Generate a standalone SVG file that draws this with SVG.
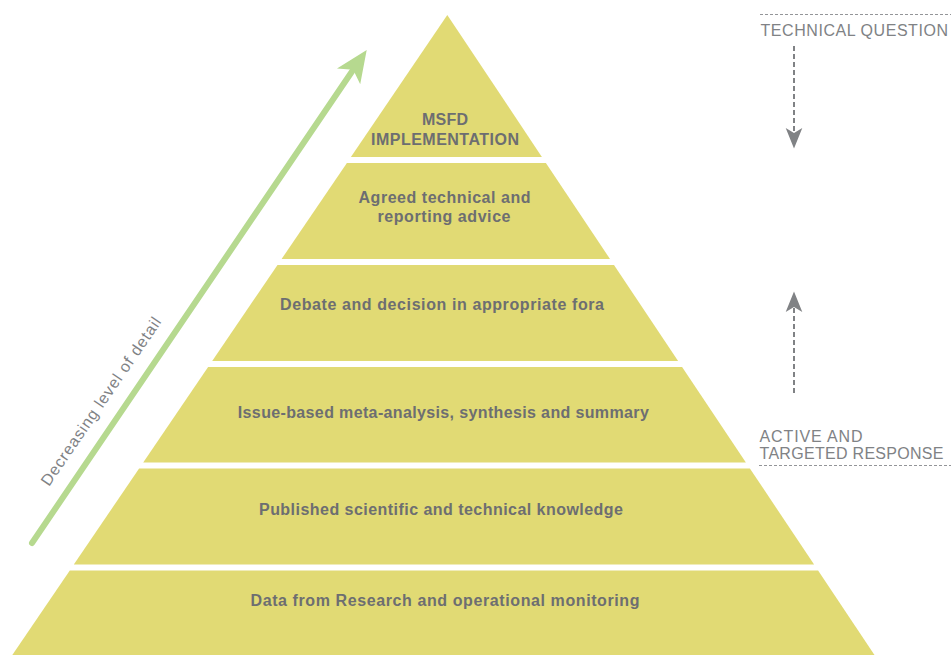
<svg xmlns="http://www.w3.org/2000/svg" width="951" height="655" viewBox="0 0 951 655">
  <style>
    .band { fill: #e1da74; }
    .lbl { font-family: "Liberation Sans", Arial, sans-serif; font-weight: bold; font-size: 16px; fill: #6d6e71; text-anchor: middle; }
    .side { font-family: "Liberation Sans", Arial, sans-serif; font-size: 16px; fill: #808285; }
    .rule { stroke: #939598; stroke-width: 1; stroke-dasharray: 3 2; fill: none; }
    .flow { stroke: #808285; stroke-width: 2; stroke-dasharray: 5 3; fill: none; }
    .head { fill: #808285; }
  </style>
  <rect width="951" height="655" fill="#ffffff"/>

  <g id="level-1">
    <polygon class="band" points="447.3,15 541.9,157 350.9,157"/>
    <text class="lbl" x="445" y="125" textLength="46">MSFD</text>
    <text class="lbl" x="445" y="145" textLength="148">IMPLEMENTATION</text>
  </g>
  <g id="level-2">
    <polygon class="band" points="346.9,163 545.9,163 610,259 281.6,259"/>
    <text class="lbl" x="444.5" y="203.3" textLength="172">Agreed technical and</text>
    <text class="lbl" x="444" y="221.7" textLength="133">reporting advice</text>
  </g>
  <g id="level-3">
    <polygon class="band" points="277.5,265 614,265 678.1,361 212.2,361"/>
    <text class="lbl" x="442" y="310" textLength="324">Debate and decision in appropriate fora</text>
  </g>
  <g id="level-4">
    <polygon class="band" points="208.1,367 682.1,367 745.9,462.5 143.2,462.5"/>
    <text class="lbl" x="443.3" y="418.3" textLength="411">Issue-based meta-analysis, synthesis and summary</text>
  </g>
  <g id="level-5">
    <polygon class="band" points="139.1,468.5 749.9,468.5 814.1,564.5 73.8,564.5"/>
    <text class="lbl" x="441" y="515" textLength="364">Published scientific and technical knowledge</text>
  </g>
  <g id="level-6">
    <polygon class="band" points="69.8,570.5 818.1,570.5 874.5,655 12.3,655"/>
    <text class="lbl" x="445" y="606" textLength="389">Data from Research and operational monitoring</text>
  </g>

  <g id="detail-axis">
    <line x1="32" y1="543" x2="352" y2="71.5" stroke="#b6d98f" stroke-width="6" stroke-linecap="round"/>
    <polygon points="366.7,50 360.2,84.3 353.2,69.8 337,68.5" fill="#b6d98f"/>
    <text class="side" transform="translate(49,487) rotate(-55.64)" textLength="200">Decreasing level of detail</text>
  </g>

  <g id="technical-question">
    <line class="rule" x1="760" y1="14.5" x2="951" y2="14.5"/>
    <text class="side" x="760.5" y="36" textLength="187.5">TECHNICAL QUESTION</text>
  </g>
  <g id="active-response">
    <text class="side" x="759.5" y="442.3" textLength="103">ACTIVE AND</text>
    <text class="side" x="759.5" y="459" textLength="184">TARGETED RESPONSE</text>
    <line class="rule" x1="759" y1="465.5" x2="951" y2="465.5"/>
  </g>

  <g id="connectors">
    <line class="flow" x1="794" y1="46" x2="794" y2="132"/>
    <path class="head" d="M794,148.5 L785.7,128 L794,133 L802.3,128 Z"/>
    <line class="flow" x1="794" y1="393" x2="794" y2="308"/>
    <path class="head" d="M794,291.5 L785.7,312 L794,307 L802.3,312 Z"/>
  </g>
</svg>
